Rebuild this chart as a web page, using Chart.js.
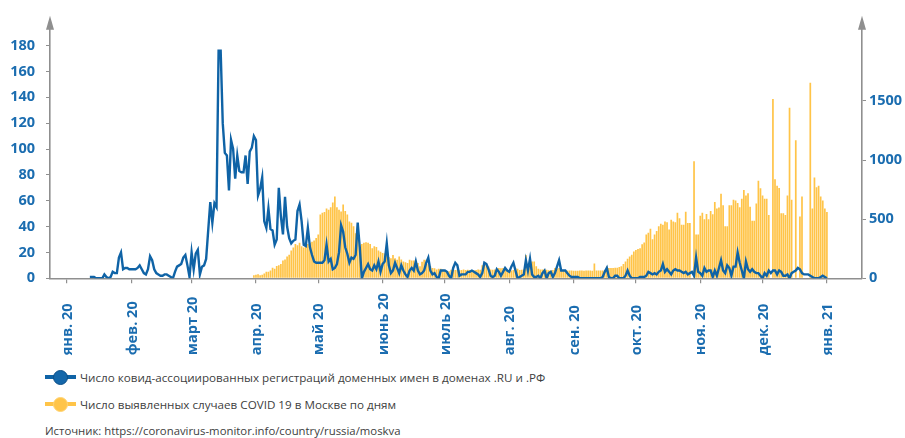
<!DOCTYPE html>
<html lang="ru">
<head>
<meta charset="utf-8">
<script src="https://cdn.jsdelivr.net/npm/chart.js@4.4.0/dist/chart.umd.min.js"></script>
<style>
  body { margin: 0; background: #fff; font-family: "Open Sans", sans-serif; }
  #wrap { position: relative; width: 905px; height: 438px; }
  #box { position: absolute; left: 0; top: 0; width: 905px; height: 365px; }
  .leg { position: absolute; left: 45px; height: 16px; display: flex; align-items: center;
         font-size: 11.65px; color: #404040; white-space: nowrap; }
  .mark { position: relative; width: 31px; height: 16px; margin-right: 4px; }
  .mark .ln { position: absolute; left: 0; top: 6px; width: 31px; height: 4px; }
  .mark .dot { position: absolute; left: 8px; top: 0.5px; width: 15px; height: 15px;
               border-radius: 50%; box-sizing: border-box; }
  #src { position: absolute; left: 45px; top: 423px; font-size: 11.35px; color: #404040; }
</style>
</head>
<body>
<div id="wrap">
  <div id="box"><canvas id="covidChart"></canvas></div>
  <div class="leg" style="top:369px">
    <div class="mark"><div class="ln" style="background:#0f63a6"></div>
      <div class="dot" style="background:#1467aa;border:1.5px solid #0b4f88"></div></div>
    Число ковид-ассоциированных регистраций доменных имен в доменах .RU и .РФ
  </div>
  <div class="leg" style="top:396px">
    <div class="mark"><div class="ln" style="background:#ffc448"></div>
      <div class="dot" style="background:#ffc448;border:1.5px solid #ffd474"></div></div>
    Число выявленных случаев COVID 19 в Москве по дням
  </div>
  <div id="src">Источник: https://coronavirus-monitor.info/country/russia/moskva</div>
</div>
<script>
// day 0 = 1 Jan 2020, one value per day
const monthLabels = ['янв. 20', 'фев. 20', 'март 20', 'апр. 20', 'май 20', 'июнь 20', 'июль 20',
                     'авг. 20', 'сен. 20', 'окт. 20', 'ноя. 20', 'дек. 20', 'янв. 21'];
const monthStarts = [0, 31, 60, 91, 121, 152, 182, 213, 244, 274, 305, 335, 366];
const leftTicks = [0, 20, 40, 60, 80, 100, 120, 140, 160, 180];
const rightTicks = [0, 500, 1000, 1500];

const domainRegs = [
  null, null, null, null, null, null, null, null, null, null, null,
  1, 1, 1, 0, 0, 0, 0, 3, 1, 0,
  1, 5, 4, 4, 16, 20, 7, 8, 8, 7,
  7, 7, 7, 8, 10, 7, 4, 3, 7, 17,
  14, 7, 4, 3, 2, 2, 3, 3, 2, 1,
  0, 5, 9, 10, 11, 16, 18, 10, 1, 20,
  7, 19, 22, 3, 9, 10, 15, 37, 59, 43,
  58, 55, 176, 176, 120, 97, 95, 68, 107, 100,
  77, 95, 83, 82, 82, 95, 73, 98, 101, 110,
  107, 64, 69, 78, 44, 39, 54, 38, 37, 26,
  30, 70, 48, 34, 63, 40, 31, 27, 29, 30,
  52, 57, 44, 26, 25, 39, 24, 18, 13, 12,
  12, 12, 12, 14, 26, 13, 15, 7, 8, 11,
  20, 41, 36, 24, 19, 12, 16, 15, 18, 43,
  24, 0, 5, 8, 11, 7, 6, 10, 7, 13,
  5, 11, 13, 27, 10, 4, 6, 12, 8, 4,
  10, 6, 3, 1, 6, 8, 6, 13, 6, 3,
  4, 6, 12, 16, 6, 3, 4, 1, 0, 6,
  6, 6, 5, 2, 0, 8, 12, 10, 2, 3,
  3, 3, 5, 5, 6, 5, 4, 3, 1, 4,
  12, 11, 7, 2, 1, 2, 7, 5, 2, 5,
  8, 6, 5, 9, 12, 6, 0, 1, 2, 3,
  14, 6, 15, 3, 1, 1, 2, 0, 4, 6,
  0, 4, 5, 1, 4, 9, 14, 6, 6, 6,
  4, 2, 1, 1, 1, 1, 0, 0, 0, 0,
  0, 0, 0, 0, 0, 0, 0, 1, 5, 8,
  1, 0, 0, 2, 2, 0, 0, 0, 2, 6,
  2, 0, 0, 0, 0, 1, 1, 1, 2, 5,
  4, 3, 4, 3, 5, 6, 11, 5, 7, 5,
  3, 6, 7, 6, 6, 5, 4, 5, 3, 4,
  5, 2, 16, 5, 4, 2, 8, 5, 6, 6,
  1, 6, 2, 8, 14, 6, 4, 10, 8, 2,
  9, 9, 20, 12, 6, 0, 13, 7, 5, 7,
  5, 4, 4, 2, 0, 4, 2, 6, 4, 6,
  6, 3, 6, 5, 2, 2, 3, 0, 4, 5,
  6, 8, 7, 4, 3, 3, 3, 2, 1, 0,
  0, 0, 1, 2, 1, 0
];

const mskCases = [
  // 1 Jan - 30 Mar: no data
  null, null, null, null, null, null, null, null, null, null,
  null, null, null, null, null, null, null, null, null, null,
  null, null, null, null, null, null, null, null, null, null,
  null, null, null, null, null, null, null, null, null, null,
  null, null, null, null, null, null, null, null, null, null,
  null, null, null, null, null, null, null, null, null, null,
  null, null, null, null, null, null, null, null, null, null,
  null, null, null, null, null, null, null, null, null, null,
  null, null, null, null, null, null, null, null, null, null,
  25,
  30, 35, 25, 30, 40, 55, 55, 65, 90, 80,
  105, 110, 120, 150, 160, 185, 200, 235, 260, 290,
  280, 300, 270, 260, 280, 290, 300, 310, 320, 340,
  370, 540, 555, 560, 590, 580, 600, 640, 692, 600,
  580, 565, 624, 570, 540, 480, 470, 440, 380, 345,
  280, 290, 300, 305, 300, 290, 255, 270, 265, 235,
  225, 215, 210, 198, 180, 170, 198, 170, 156, 184,
  160, 143, 135, 129, 156, 150, 150, 135, 129, 101,
  140, 156, 156, 120, 101, 88, 85, 74, 80, 80,
  75, 70, 60, 60, 72, 74, 70, 72, 68, 70,
  74, 70, 72, 70, 68, 66, 70, 74, 72, 110,
  115, 112, 100, 74, 72, 74, 80, 88, 85, 88,
  80, 74, 70, 66, 70, 88, 80, 70, 72, 74,
  198, 100, 170, 142, 142, 101, 80, 74, 74, 74,
  72, 68, 66, 70, 88, 80, 88, 85, 70, 66,
  66, 66, 66, 64, 64, 64, 66, 66, 64, 66,
  66, 66, 64, 126, 66, 66, 66, 66, 68, 100,
  88, 88, 88, 90, 90, 96, 101, 120, 142, 165,
  184, 200, 226, 240, 247, 255, 288, 302, 371, 385,
  418, 330, 371, 400, 440, 462, 453, 481, 473, 412,
  495, 481, 473, 555, 508, 453, 453, 563, 467, 467,
  null, 989, 371, 371, 530, 555, 500, 544, 500, 570,
  541, 646, 591, 599, 714, 618, 440, 440, 618, 618,
  665, 659, 637, 600, 673, 747, 700, 720, 605, 486,
  486, 632, 824, 761, 700, 673, 673, 536, null, 1517,
  838, 783, 764, 550, 550, 536, 700, 1443, 665, null,
  1168, null, 522, 692, null, null, null, 1654, 590, 852,
  769, 783, 692, 659, 590, 560
];

const axisGrey = '#8f8f8f';
const blueText = '#1b6db0';
const tickFont = { family: '"Open Sans", sans-serif', size: 14.5, weight: 'bold' };

// arrows on the value axes and bottom-aligned rotated month labels
const decor = {
  id: 'decor',
  afterDraw(chart) {
    const { ctx, chartArea, scales } = chart;
    ctx.save();
    ctx.fillStyle = axisGrey;
    [chartArea.left, chartArea.right].forEach(x => {
      ctx.beginPath();
      ctx.moveTo(x, chartArea.top - 4);
      ctx.lineTo(x - 4, chartArea.top + 10);
      ctx.lineTo(x + 4, chartArea.top + 10);
      ctx.closePath();
      ctx.fill();
    });
    ctx.fillStyle = blueText;
    ctx.font = 'bold 14.5px "Open Sans", sans-serif';
    ctx.textAlign = 'left';
    ctx.textBaseline = 'middle';
    scales.x.ticks.forEach((t, i) => {
      ctx.save();
      ctx.translate(scales.x.getPixelForValue(t.value) + 1, chartArea.bottom + 77);
      ctx.rotate(-Math.PI / 2);
      ctx.fillText(monthLabels[i], 0, 0);
      ctx.restore();
    });
    ctx.restore();
  }
};

new Chart(document.getElementById('covidChart'), {
  data: {
    datasets: [{
      type: 'line',
      label: 'Число ковид-ассоциированных регистраций доменных имен в доменах .RU и .РФ',
      data: domainRegs.map((v, i) => ({ x: i, y: v })),
      borderColor: '#0f63a6',
      borderWidth: 2.4,
      pointRadius: 0,
      tension: 0,
      yAxisID: 'y',
      order: 0
    }, {
      type: 'bar',
      label: 'Число выявленных случаев COVID 19 в Москве по дням',
      data: mskCases.map((v, i) => ({ x: i, y: v })),
      backgroundColor: '#ffc448',
      categoryPercentage: 1,
      barPercentage: 0.82,
      yAxisID: 'y1',
      order: 1
    }]
  },
  plugins: [decor],
  options: {
    responsive: true,
    maintainAspectRatio: false,
    animation: false,
    events: [],
    layout: { padding: { top: 13.5, left: 0, right: 0, bottom: 0 } },
    plugins: { legend: { display: false }, tooltip: { enabled: false } },
    scales: {
      x: {
        type: 'linear',
        offset: false,
        min: -8.2,
        max: 382.9,
        afterBuildTicks: s => { s.ticks = monthStarts.map(v => ({ value: v })); },
        afterFit: s => { s.height = 86.7; },
        ticks: { display: false },
        grid: { offset: false, drawOnChartArea: false, drawTicks: true, tickLength: 5, color: axisGrey, lineWidth: 1.2 },
        border: { color: axisGrey, width: 1.6 }
      },
      y: {
        position: 'left',
        min: 0,
        max: 200,
        afterBuildTicks: s => { s.ticks = leftTicks.map(v => ({ value: v })); },
        afterFit: s => { s.width = 50; },
        ticks: { color: blueText, font: tickFont, padding: 11, callback: v => String(v) },
        grid: { drawOnChartArea: false, tickLength: 4, color: axisGrey },
        border: { color: axisGrey, width: 1.6 }
      },
      y1: {
        position: 'right',
        min: 0,
        max: 2187,
        afterBuildTicks: s => { s.ticks = rightTicks.map(v => ({ value: v })); },
        afterFit: s => { s.width = 43; },
        ticks: { color: blueText, font: tickFont, padding: 3, callback: v => String(v) },
        grid: { drawOnChartArea: false, tickLength: 4, color: axisGrey },
        border: { color: axisGrey, width: 1.6 }
      }
    }
  }
});
</script>
</body>
</html>
